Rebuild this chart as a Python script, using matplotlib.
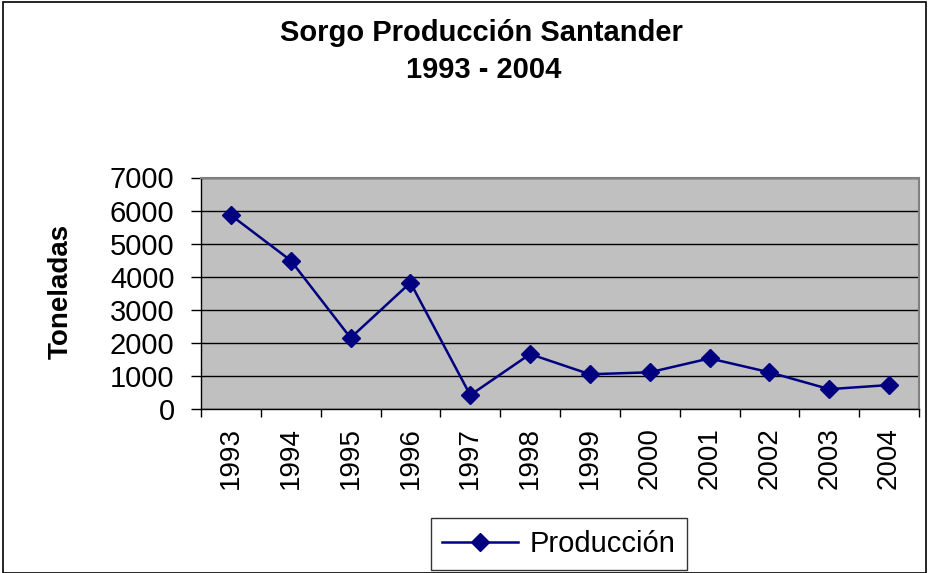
import matplotlib.pyplot as plt
from matplotlib.patches import Rectangle

# Data
years = ["1993", "1994", "1995", "1996", "1997", "1998",
         "1999", "2000", "2001", "2002", "2003", "2004"]
produccion = [5860, 4490, 2150, 3820, 420, 1660,
              1050, 1110, 1530, 1110, 600, 725]
y_ticks = [0, 1000, 2000, 3000, 4000, 5000, 6000, 7000]

plt.rcParams["font.family"] = ["Liberation Sans", "DejaVu Sans"]

W, H = 931, 573
fig = plt.figure(figsize=(W / 100, H / 100), dpi=100)

# outer chart border
fig.patches.append(Rectangle((3 / W, 0), (926 - 3) / W, (H - 2) / H,
                             transform=fig.transFigure, fill=False,
                             edgecolor="black", linewidth=1.2))

left, right, top, bottom = 201, 919, 177.5, 409
ax = fig.add_axes([left / W, 1 - bottom / H, (right - left) / W, (bottom - top) / H])
ax.set_facecolor("#C0C0C0")

x = list(range(len(years)))
ax.plot(x, produccion, color="#000080", linewidth=1.8, marker="D",
        markersize=9, label="Producción", zorder=3)

ax.set_xlim(-0.5, len(years) - 0.5)
ax.set_ylim(0, 7000)
ax.set_yticks(y_ticks)
ax.set_yticklabels([str(v) for v in y_ticks], fontsize=21)
ax.yaxis.grid(True, color="black", linewidth=1)
ax.set_axisbelow(True)

# category labels centred, ticks on the boundaries
ax.set_xticks(x)
ax.set_xticklabels(years, rotation=90, fontsize=20)
ax.tick_params(axis="x", length=0, pad=13)
ax.set_xticks([i - 0.5 for i in range(len(years) + 1)], minor=True)
ax.tick_params(axis="x", which="minor", length=6, width=1, color="black")
ax.tick_params(axis="y", length=7, width=1, color="black", pad=12)

for side in ["top", "right"]:
    ax.spines[side].set_color("#808080")
    ax.spines[side].set_linewidth(1.5)
for side in ["left", "bottom"]:
    ax.spines[side].set_color("black")
    ax.spines[side].set_linewidth(1)

fig.text(61 / W, 1 - 291 / H, "Toneladas", rotation=90, ha="center", va="center",
         fontsize=20, fontweight="bold")

fig.text(481 / W, 1 - 33 / H, "Sorgo Producción Santander", ha="center", va="center",
         fontsize=21, fontweight="bold")
fig.text(484 / W, 1 - 70 / H, "1993 - 2004", ha="center", va="center",
         fontsize=21, fontweight="bold")

leg = fig.legend(loc="center", bbox_to_anchor=(559 / W, 1 - 544 / H), fontsize=21,
                 frameon=True, fancybox=False, edgecolor="black", handlelength=2.6,
                 handletextpad=0.4, borderpad=0.4, borderaxespad=0)
leg.get_frame().set_linewidth(1)

fig.savefig("out.png", dpi=100)
